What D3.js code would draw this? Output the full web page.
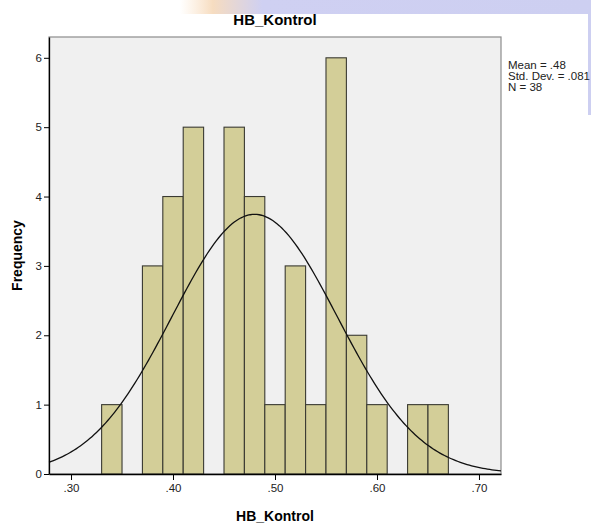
<!DOCTYPE html>
<html>
<head>
<meta charset="utf-8">
<script src="https://cdn.jsdelivr.net/npm/d3@7"></script>
<style>
  body { margin: 0; background: #fff; }
  svg { display: block; font-family: "Liberation Sans", Arial, sans-serif; }
</style>
</head>
<body>
<div id="chart"></div>
<script>
(function () {

  // histogram bins (lower edge) and counts
  var binStarts = [0.33, 0.35, 0.37, 0.39, 0.41, 0.43, 0.45, 0.47, 0.49, 0.51, 0.53, 0.55, 0.57, 0.59, 0.61, 0.63, 0.65]
  var counts    = [1,    0,    3,    4,    5,    0,    5,    4,    1,    3,    1,    6,    2,    1,    0,    1,    1]
  var binWidth = 0.02

  // summary stats shown in the legend
  var mean = 0.48, stdDev = 0.081, n = 38
  var statLabels = ['Mean = .48', 'Std. Dev. = .081', 'N = 38']

  var xTicks = [0.30, 0.40, 0.50, 0.60, 0.70]
  var yTicks = [0, 1, 2, 3, 4, 5, 6]

  // set margins
  var margin = { top: 37, right: 90, bottom: 53, left: 49 }
  var width = 591 - margin.left - margin.right,
      height = 527 - margin.top - margin.bottom

  var root = d3.select("#chart").append("svg")
      .attr("width", 591)
      .attr("height", 527)

  // faint watermark strip at the top of the image
  var grad = root.append("defs").append("linearGradient")
      .attr("id", "wm")
      .attr("x1", "0").attr("x2", "1")
  grad.append("stop").attr("offset", "0").attr("stop-color", "#fbe3c8").attr("stop-opacity", 0)
  grad.append("stop").attr("offset", "0.08").attr("stop-color", "#f6dcc0")
  grad.append("stop").attr("offset", "0.2").attr("stop-color", "#cfd0f2")
  grad.append("stop").attr("offset", "1").attr("stop-color", "#cdcff1")
  root.append("rect")
      .attr("x", 180).attr("y", 0)
      .attr("width", 411).attr("height", 14)
      .attr("fill", "url(#wm)")
  root.append("rect")
      .attr("x", 588).attr("y", 0)
      .attr("width", 3).attr("height", 115)
      .attr("fill", "#cdcff1")

  var svg = root.append("g")
      .attr("transform", "translate(" + margin.left + "," + margin.top + ")")

  // scales
  var xScale = d3.scaleLinear()
    .domain([0.2784, 0.7216])
    .range([0, width])

  var yScale = d3.scaleLinear()
    .domain([0, 6.3])
    .range([height, 0])

  // plot background
  svg.append("rect")
    .attr("width", width)
    .attr("height", height)
    .attr("fill", "#f0f0f0")
    .attr("stroke", "#8c8c8c")
    .attr("stroke-width", 1.2)

  // bars
  svg.selectAll(".bar")
    .data(binStarts.map((d, i) => ({ x0: d, count: counts[i] })).filter(d => d.count > 0))
    .join("rect")
    .attr("class", "bar")
    .attr("x", d => xScale(d.x0))
    .attr("y", d => yScale(d.count))
    .attr("width", d => xScale(d.x0 + binWidth) - xScale(d.x0))
    .attr("height", d => yScale(0) - yScale(d.count))
    .attr("fill", "#d3ce98")
    .attr("stroke", "#3a3a32")
    .attr("stroke-width", 1.1)

  // fitted normal curve (scaled to counts)
  var curveXs = d3.range(0, 201).map(i => xScale.domain()[0] + i * (xScale.domain()[1] - xScale.domain()[0]) / 200)
  var normal = x => n * binWidth * Math.exp(-0.5 * Math.pow((x - mean) / stdDev, 2)) / (stdDev * Math.sqrt(2 * Math.PI))
  svg.append("path")
    .datum(curveXs)
    .attr("fill", "none")
    .attr("stroke", "#111")
    .attr("stroke-width", 1.3)
    .attr("d", d3.line().x(d => xScale(d)).y(d => yScale(normal(d))))

  // axes
  var yAxis = d3.axisLeft(yScale).tickValues(yTicks).tickSize(5).tickSizeOuter(0).tickPadding(2).tickFormat(d3.format("d"))
  var yG = svg.append("g").call(yAxis)
  yG.select(".domain").attr("stroke", "#000").attr("stroke-width", 1.3)

  var xAxis = d3.axisBottom(xScale).tickValues(xTicks).tickSize(6).tickSizeOuter(0).tickPadding(4)
    .tickFormat(d => d3.format(".2f")(d).replace(/^0/, ""))
  var xG = svg.append("g")
    .attr("transform", "translate(0," + height + ")")
    .call(xAxis)
  xG.select(".domain").attr("stroke", "#000").attr("stroke-width", 1.3)

  root.selectAll(".tick text")
    .attr("font-size", 11.5)
    .attr("fill", "#222")
    .attr("font-family", "Liberation Sans, Arial, sans-serif")

  // title and axis labels
  root.append("text")
    .attr("x", margin.left + width / 2)
    .attr("y", 25)
    .attr("text-anchor", "middle")
    .attr("font-size", 15)
    .attr("font-weight", "bold")
    .text("HB_Kontrol")

  root.append("text")
    .attr("x", margin.left + width / 2)
    .attr("y", 521)
    .attr("text-anchor", "middle")
    .attr("font-size", 14)
    .attr("font-weight", "bold")
    .text("HB_Kontrol")

  root.append("text")
    .attr("transform", "translate(22," + (margin.top + height / 2) + ") rotate(-90)")
    .attr("text-anchor", "middle")
    .attr("font-size", 14)
    .attr("font-weight", "bold")
    .text("Frequency")

  // stats legend
  root.append("g")
    .selectAll("text")
    .data(statLabels)
    .join("text")
    .attr("x", 508)
    .attr("y", (d, i) => 69 + i * 11)
    .attr("font-size", 11.5)
    .attr("fill", "#222")
    .text(d => d)

})();
</script>
</body>
</html>
